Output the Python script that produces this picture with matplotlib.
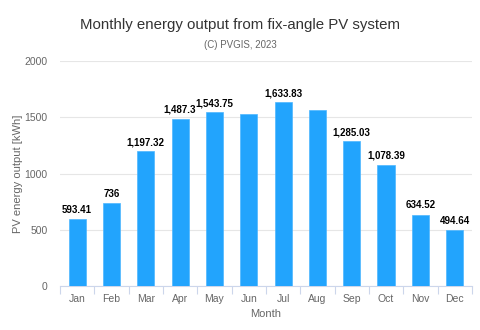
import matplotlib
matplotlib.use("Agg")
import matplotlib.pyplot as plt
import numpy as np

plt.rcParams['font.family'] = ['Liberation Sans', 'DejaVu Sans']

months = ["Jan", "Feb", "Mar", "Apr", "May", "Jun", "Jul", "Aug", "Sep", "Oct", "Nov", "Dec"]
energy = [593.41, 736.0, 1197.32, 1487.3, 1543.75, 1533.0, 1633.83, 1564.0, 1285.03, 1078.39, 634.52, 494.64]
show_label = [True, True, True, True, True, False, True, False, True, True, True, True]
yticks = [0, 500, 1000, 1500, 2000]

fig = plt.figure(figsize=(4.8, 3.3), dpi=100)
ax = fig.add_axes([0.125, 0.1333, 0.858, 0.6818])

x = np.arange(len(months))
ax.bar(x, energy, width=0.5, color='#22a4fd', edgecolor='#4db6ff', linewidth=0.5, zorder=3)

for xi, v, s in zip(x, energy, show_label):
    if s:
        txt = f"{v:,.2f}".rstrip('0').rstrip('.')
        ax.annotate(txt, (xi, v), xytext=(0, 3), textcoords='offset points',
                    ha='center', va='bottom', fontsize=7, fontweight='bold', color='#000000', zorder=4)

ax.set_xlim(-0.5, len(months) - 0.5)
ax.set_ylim(0, 2000)
ax.set_yticks(yticks)
ax.set_yticklabels([str(t) for t in yticks])
ax.yaxis.grid(True, color='#e6e6e6', linewidth=0.8, zorder=0)
ax.tick_params(axis='y', length=0, labelsize=7.5, labelcolor='#666666', pad=9)

ax.set_xticks(x)
ax.set_xticklabels(months)
ax.tick_params(axis='x', length=0, labelsize=7.5, labelcolor='#666666', pad=6)
ax.set_xticks(np.arange(-0.5, len(months)), minor=True)
ax.tick_params(axis='x', which='minor', length=6, color='#ccd6eb', width=0.8)

for sp in ['top', 'right', 'left']:
    ax.spines[sp].set_visible(False)
ax.spines['bottom'].set_color('#ccd6eb')
ax.spines['bottom'].set_linewidth(0.8)

ax.set_xlabel("Month", fontsize=8, color='#666666', labelpad=3)
ax.set_ylabel("PV energy output [kWh]", fontsize=8, color='#666666', labelpad=1)

fig.text(0.5, 1 - 25 / 330, "Monthly energy output from fix-angle PV system", ha='center', va='center',
         fontsize=10.8, color='#333333')
fig.text(0.5, 1 - 45 / 330, "(C) PVGIS, 2023", ha='center', va='center', fontsize=7, color='#666666')

fig.savefig("out.png", dpi=100)
